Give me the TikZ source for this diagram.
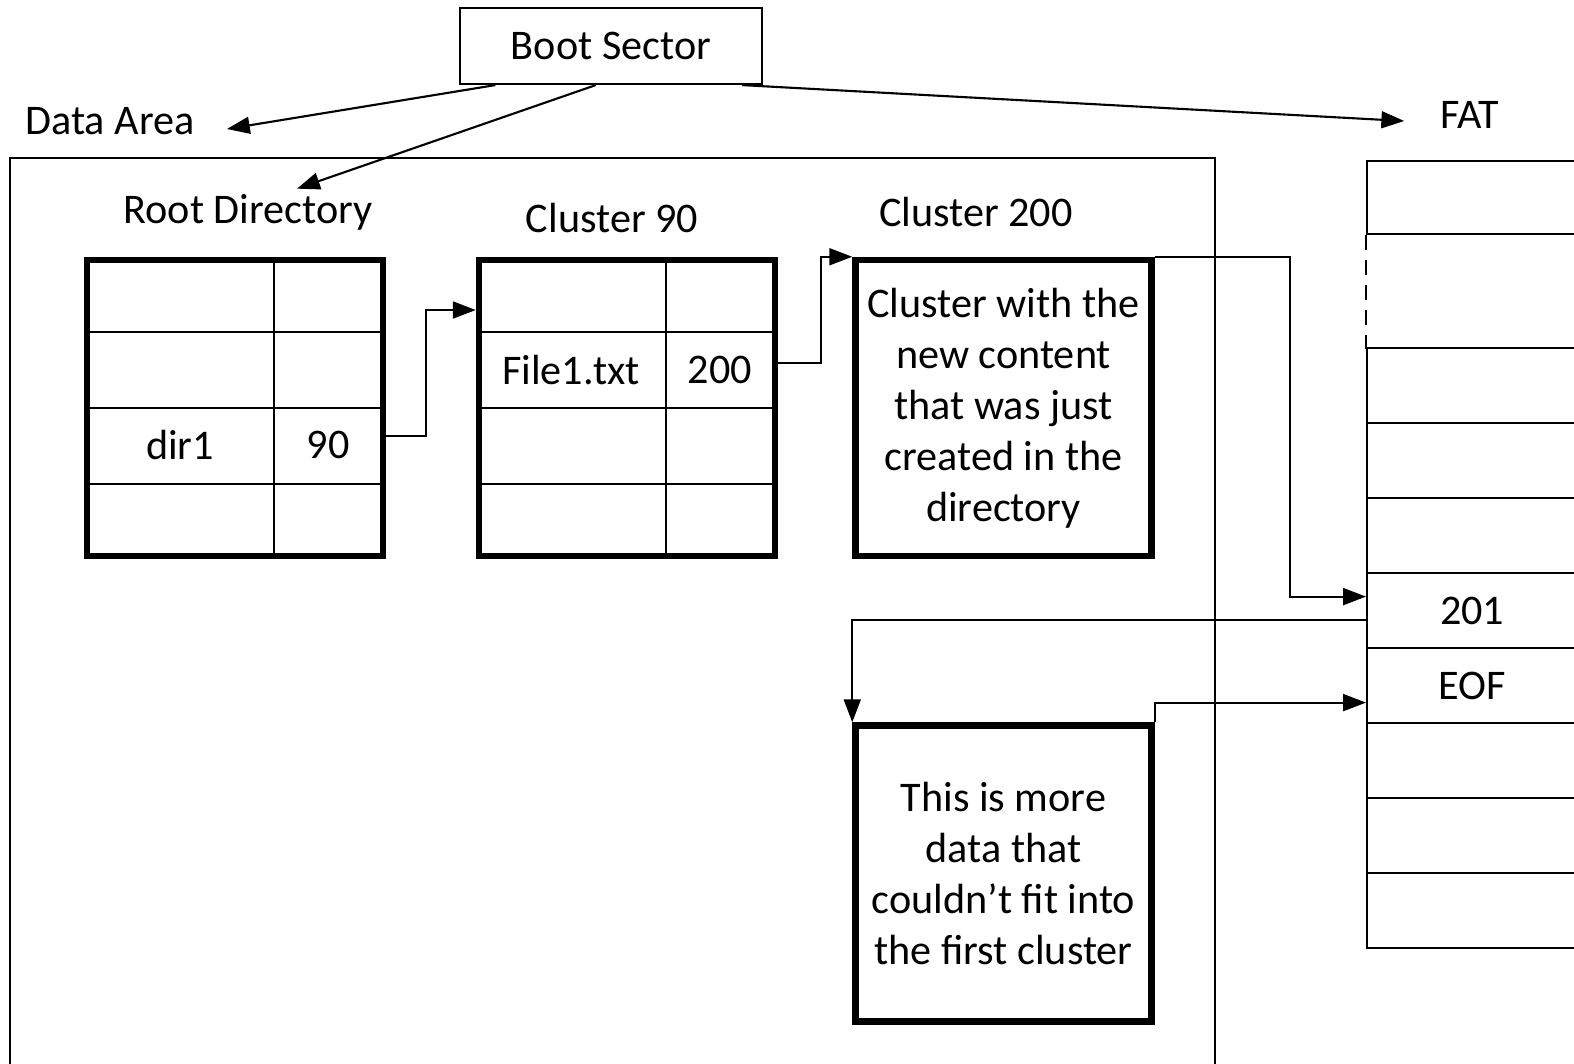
\documentclass[tikz,border=0pt]{standalone}
\usepackage{fontspec}
\setmainfont{Carlito}
\usetikzlibrary{arrows.meta,positioning,calc}
% inner lines of a directory cluster: one column split, three row splits
\newcommand{\dirgrid}[1]{%
  \draw[cell] ($(#1.north west)!0.63!(#1.north east)$) -- ($(#1.south west)!0.63!(#1.south east)$);
  \foreach \f in {0.25,0.5,0.75}
    \draw[cell] ($(#1.north west)!\f!(#1.south west)$) -- ($(#1.north east)!\f!(#1.south east)$);}

\begin{document}
\begin{tikzpicture}[
  x=0.01cm, y=-0.01cm,
  font=\fontsize{12}{14.5}\selectfont,
  link/.style={-{Triangle[length=6.5pt,width=4.8pt]}, line width=0.6pt},
  bootbox/.style={draw, line width=0.6pt, minimum width=3.02cm, minimum height=0.76cm},
  clusterbox/.style={draw, line width=1.8pt, minimum width=2.96cm, minimum height=2.96cm,
    align=center, inner sep=0pt},
  cell/.style={line width=0.6pt},
  fatcell/.style={draw, line width=0.6pt, minimum width=2.1cm, minimum height=0.75cm,
    anchor=north west, inner sep=0pt},
]
\useasboundingbox (0,0) rectangle (1574,1063);
\clip (0,0) rectangle (1574,1063);

\node[bootbox] (boot) at (611,46) {Boot Sector};
\node (datalbl) at (110,121) {Data Area};
\node (fatlbl) at (1470,115) {FAT};

% data area
\draw[line width=0.8pt] (10,1080) |- (1215,158) -- (1215,1080);
\node (rootlbl) at (248,212) {Root Directory};
\node (c90lbl) at (612,218) {Cluster 90};
\node (c200lbl) at (976,212) {Cluster 200};

\node[clusterbox] (root) at (235,408) {};
\node[clusterbox] (c90) at (627,408) {};
\node[clusterbox] (c200) at (1003.5,408) {Cluster with the\\new content\\that was just\\created in the\\directory};
\node[clusterbox] (c201) at (1003.5,873.5) {This is more\\data that\\couldn’t fit into\\the first cluster};
\dirgrid{root}
\dirgrid{c90}
\node (dir1) at (180,445) {dir1};
\node (dir1clu) at (328,445) {90};
\node (file1) at (571,370) {File1.txt};
\node (file1clu) at (720,370) {200};

% FAT
\node[fatcell, minimum height=0.73cm] (fattop) at (1366,160) {};
\draw[cell, dash pattern=on 4.25pt off 2.85pt] (fattop.south west) -- ++(0,114);
\foreach \k/\n/\txt in {0/fatr1/{},1/fatr2/{},2/fatr3/{},3/fat201/201,4/fatEOF/EOF,5/fatr6/{},6/fatr7/{},7/fatr8/{}}
  \node[fatcell] (\n) at (1366,347+75*\k) {\txt};

% connectors
\draw[link] ($(boot.south west)!0.12!(boot.south east)$) -- ($(datalbl.east)+(20,8)$);
\draw[link] ($(boot.south west)!0.45!(boot.south east)$) -- ($(rootlbl.north)+(49,7)$);
\draw[link] ($(boot.south west)!0.93!(boot.south east)$) -- ($(fatlbl.west)+(-24,6)$);
\draw[link] ($(root.east)+(0,28)$) -- ++(40,0) |- ($(c90.west)+(0,-98)$);
\draw[link] ($(c90.east)+(0,-45)$) -- ++(43,0) |- (c200.north west);
\draw[link] (c200.north east) -- ++(135,0) |- ($(fat201.west)+(0,-14)$);
\draw[link] ($(fat201.west)+(0,9)$) -| (c201.north west);
\draw[link] (c201.north east) |- ($(fatEOF.west)+(0,17)$);
\end{tikzpicture}
\end{document}
